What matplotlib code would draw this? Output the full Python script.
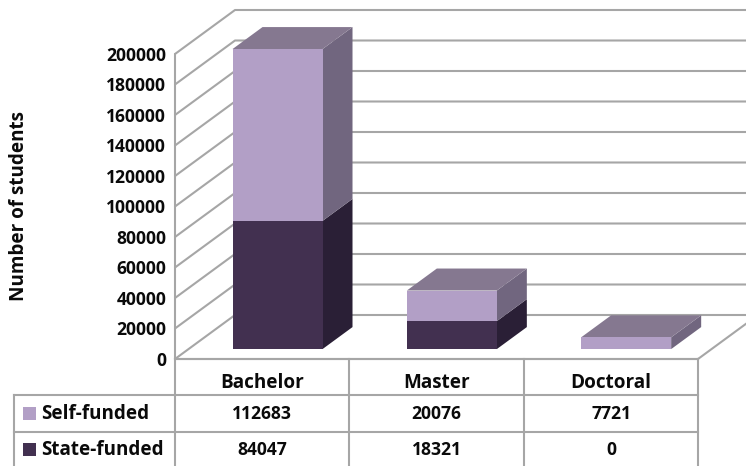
import matplotlib
matplotlib.use('Agg')
import matplotlib.pyplot as plt
from matplotlib.patches import Polygon, Rectangle

categories = ['Bachelor', 'Master', 'Doctoral']
self_funded = [112683, 20076, 7721]
state_funded = [84047, 18321, 0]
y_ticks = list(range(0, 200001, 20000))

W, H = 746, 466
plt.rcParams['font.family'] = ['Open Sans', 'DejaVu Sans']
plt.rcParams['font.weight'] = 'bold'
plt.rcParams['font.size'] = 12.6
WORD_SIZE = 13.6

GRID = '#a6a6a6'
TXT = '#0a0a0a'
LIGHT = ('#b29fc6', '#857890', '#71667f')   # front, top, side
DARK = ('#423050', '#857890', '#2a1f36')

fig = plt.figure(figsize=(W / 100, H / 100), dpi=100)
# main axes covers the front plane of the 3d box
ax = fig.add_axes([175 / W, 1 - 359 / H, (698 - 175) / W, (359 - 54) / H])
ax.set_xlim(0, 3)
ax.set_ylim(0, 200000)
ax.axis('off')

# depth of the box in data units
DX = 60 / (523 / 3)
DY = 44 / (305 / 200000)
bar_w = 90 / (523 / 3)
bar_off = 0.588
lift = 6500


def line(xs, ys):
    ax.plot(xs, ys, color=GRID, lw=1.5, clip_on=False, zorder=1, solid_capstyle='round')


# gridlines: left wall + back wall
for t in y_ticks:
    line([0, DX, 3 + DX], [t, t + DY, t + DY])
line([0, 0], [0, 200000])
line([0, 3], [0, 0])
line([3, 3 + DX], [0, DY])


def box(xc, y0, y1, cols, top=True):
    # front face plus side and top, depth is half the box depth
    l, r = xc - bar_w / 2, xc + bar_w / 2
    d = 0.5 * DX
    e = 0.5 * DY
    y0 = y0 + lift
    y1 = y1 + lift
    ax.add_patch(Polygon([(r, y0), (r + d, y0 + e), (r + d, y1 + e), (r, y1)], fc=cols[2], ec='none', zorder=3, clip_on=False))
    ax.add_patch(Rectangle((l, y0), bar_w, y1 - y0, fc=cols[0], ec='none', zorder=4, clip_on=False))
    if top:
        ax.add_patch(Polygon([(l, y1), (r, y1), (r + d, y1 + e), (l + d, y1 + e)], fc=cols[1], ec='none', zorder=3, clip_on=False))


for i in range(len(categories)):
    xc = i + bar_off
    if state_funded[i] > 0:
        box(xc, 0, state_funded[i], DARK, top=False)
    box(xc, state_funded[i], state_funded[i] + self_funded[i], LIGHT)

# y tick labels, through the data scale
for t in y_ticks:
    ax.text(-0.05, t - 1300, str(t), ha='right', va='center', clip_on=False, color=TXT)
fig.text(19 / W, 1 - 206 / H, 'Number of students', rotation=90, ha='center', va='center', color=TXT, fontsize=WORD_SIZE)

# data table underneath, pixel coordinates
tb = fig.add_axes([0, 0, 1, 1], facecolor='none')
tb.set_xlim(0, W)
tb.set_ylim(H, 0)
tb.axis('off')

col_x = [175, 349, 524, 698]
row_y = [359, 395, 432, 468]
for x in col_x:
    tb.plot([x, x], [row_y[0], row_y[-1]], color=GRID, lw=1.5)
tb.plot([175, 698], [row_y[0], row_y[0]], color=GRID, lw=1.5)
for y in row_y[1:3]:
    tb.plot([14, 698], [y, y], color=GRID, lw=1.5)
tb.plot([14, 14], [row_y[1], row_y[-1]], color=GRID, lw=1.5)

for i, name in enumerate(categories):
    cx = (col_x[i] + col_x[i + 1]) / 2
    tb.text(cx, 383, name, ha='center', va='center', color=TXT, fontsize=WORD_SIZE)
    tb.text(cx, 414, str(self_funded[i]), ha='center', va='center', color=TXT)
    tb.text(cx, 450, str(state_funded[i]), ha='center', va='center', color=TXT)

tb.add_patch(Rectangle((23, 407), 13, 13, fc=LIGHT[0], ec='none'))
tb.add_patch(Rectangle((23, 443), 13, 13, fc=DARK[0], ec='none'))
tb.text(41, 414, 'Self-funded', ha='left', va='center', color=TXT, fontsize=WORD_SIZE)
tb.text(41, 450, 'State-funded', ha='left', va='center', color=TXT, fontsize=WORD_SIZE)

fig.savefig('out.png', dpi=100)
